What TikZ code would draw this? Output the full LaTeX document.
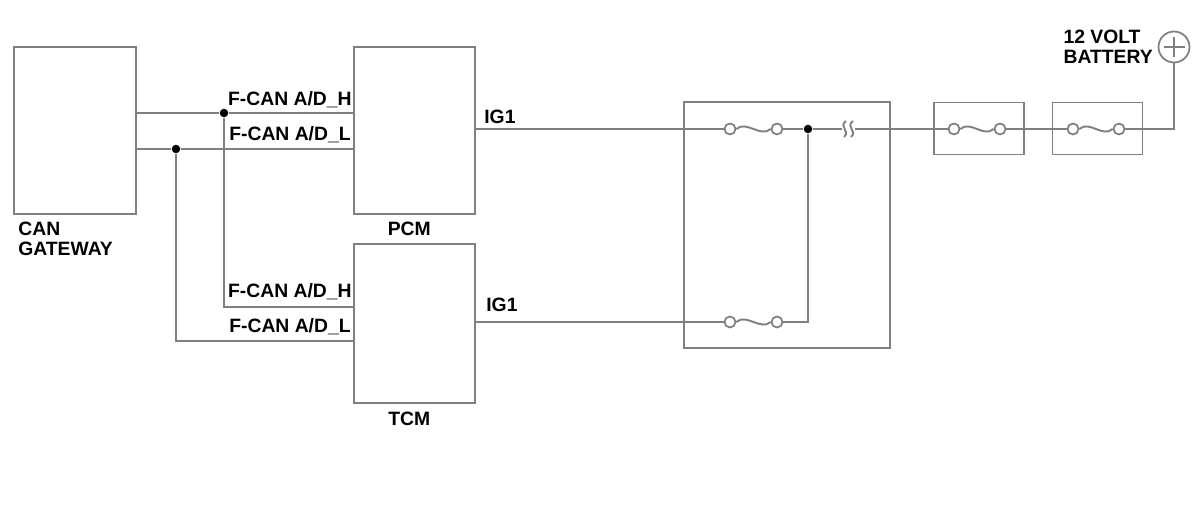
\documentclass[tikz,border=0pt]{standalone}
\usepackage{fontspec}
\setmainfont{Liberation Sans}
\usetikzlibrary{positioning}

\begin{document}
\begin{tikzpicture}[x=0.02cm, y=-0.02cm,
  wire/.style={draw=black!50, line width=1.1pt},
  box/.style={rectangle, draw=black!50, line width=1.1pt, inner sep=0pt},
  dot/.style={circle, fill=black, inner sep=0pt, minimum width=0.17cm},
  fuse end/.style={circle, draw=black!50, line width=1pt, fill=white,
                        inner sep=0pt, minimum width=0.22cm},
  lbl/.style={inner sep=0pt, font=\fontsize{11}{11.4}\selectfont\bfseries}]

\useasboundingbox (0,0) rectangle (1200,517);

\node[box, minimum width=2.44cm, minimum height=3.34cm](gw) at (75,130.5) {};
\node[box, minimum width=2.42cm, minimum height=3.34cm](pcm) at (414.5,130.5) {};
\node[box, minimum width=2.42cm, minimum height=3.18cm](tcm) at (414.5,323.5) {};
\node[box, minimum width=4.12cm, minimum height=4.92cm](fb1) at (787,225) {};
\node[box, minimum width=1.80cm, minimum height=1.04cm](fb2) at (979,128.5) {};
\node[box, minimum width=1.80cm, minimum height=1.04cm](fb3) at (1097.5,128.5) {};

\node[lbl, align=left, anchor=north west](gwl) at (18,222) {CAN\\GATEWAY};
\node[lbl, below = 4pt of pcm, xshift=-3pt](pcml) {PCM};
\node[lbl, below = 4.5pt of tcm, xshift=-3pt](tcml) {TCM};

\node[dot](jh) at (224,113) {};
\node[dot](jl) at (176,149) {};
\coordinate (th) at (tcm.west |- 0,307);
\coordinate (tl) at (tcm.west |- 0,341);

\draw[wire] (gw.east |- jh) -- (jh) -- (pcm.west |- jh);
\draw[wire] (gw.east |- jl) -- (jl) -- (pcm.west |- jl);
\draw[wire] (jh) |- (th);
\draw[wire] (jl) |- (tl);

\node[lbl, anchor=base east](pcmh) at (352,106) {F-CAN A/D\_H};
\node[lbl, anchor=base east](pcmlo) at (351,140) {F-CAN A/D\_L};
\node[lbl, anchor=base east](tcmh) at (352,297) {F-CAN A/D\_H};
\node[lbl, anchor=base east](tcmlo) at (351,332) {F-CAN A/D\_L};
\node[lbl, anchor=base west](ig1p) at (484,124) {IG1};
\node[lbl, anchor=base west](ig1t) at (486,311) {IG1};

\node[fuse end](f1a) at (730,129) {};
\node[fuse end](f1b) at (777,129) {};
\node[fuse end](f2a) at (954,129) {};
\node[fuse end](f2b) at (1000,129) {};
\node[fuse end](f3a) at (1073,129) {};
\node[fuse end](f3b) at (1119,129) {};
\node[fuse end](f4a) at (730,322) {};
\node[fuse end](f4b) at (777,322) {};

\draw[wire] (f1a.east) .. controls +(10,-9) and +(-10,9) .. (f1b.west);
\draw[wire] (f2a.east) .. controls +(10,-9) and +(-10,9) .. (f2b.west);
\draw[wire] (f3a.east) .. controls +(10,-9) and +(-10,9) .. (f3b.west);
\draw[wire] (f4a.east) .. controls +(10,-9) and +(-10,9) .. (f4b.west);

\node[dot](j1) at (808,129) {};
\coordinate (brk1) at (842,129);
\coordinate (brk2) at (855,129);

\node[circle, draw=black!50, line width=1pt, inner sep=0pt,
                        minimum width=0.62cm](bat) at (1174,47) {};
\draw[wire] ([xshift=-0.21cm]bat.center) -- ([xshift=0.21cm]bat.center);
\draw[wire] ([yshift=-0.21cm]bat.center) -- ([yshift=0.21cm]bat.center);
\node[lbl, align=left, anchor=east](batl) at (1153,47) {12 VOLT\\BATTERY};

\draw[wire] (pcm.east |- f1a) -- (f1a);
\draw[wire] (f1b) -- (j1) -- (brk1);
\draw[wire] (846,121) .. controls (838,127) and (851,131) .. (844,137);
\draw[wire] (853,121) .. controls (845,127) and (858,131) .. (851,137);
\draw[wire] (brk2) -- (f2a);
\draw[wire] (f2b) -- (f3a);
\draw[wire] (f3b) -| (bat);
\draw[wire] (tcm.east |- f4a) -- (f4a);
\draw[wire] (f4b) -| (j1);

\end{tikzpicture}
\end{document}
